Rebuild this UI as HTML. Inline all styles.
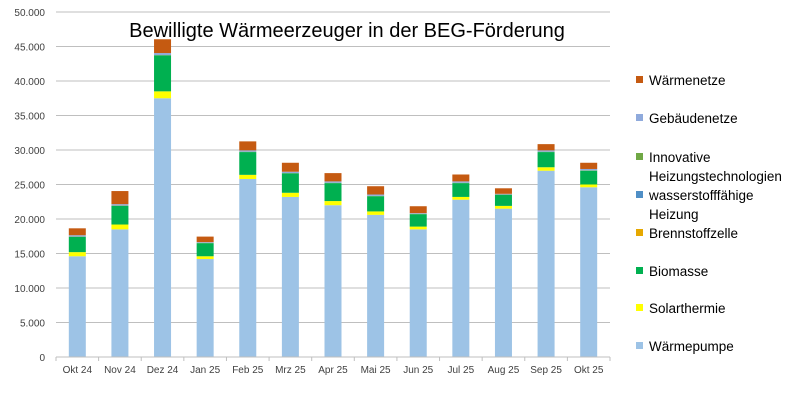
<!DOCTYPE html>
<html><head><meta charset="utf-8"><style>
body{margin:0;background:#fff;}
svg{display:block;font-family:"Liberation Sans",sans-serif;}
</style></head><body>
<svg id="chart" width="800" height="415" viewBox="0 0 800 415">
<text x="347" y="37" text-anchor="middle" font-size="20" fill="#000">Bewilligte Wärmeerzeuger in der BEG-Förderung</text>
<g id="grid"></g><g id="bars"></g><g id="axes"></g><g id="legend"></g>
</svg>
<script>
const categories=["Okt 24","Nov 24","Dez 24","Jan 25","Feb 25","Mrz 25","Apr 25","Mai 25","Jun 25","Jul 25","Aug 25","Sep 25","Okt 25"];
const waermepumpe=[14600,18500,37500,14200,25800,23200,22000,20600,18500,22800,21500,27000,24600];
const solarthermie=[600,700,1000,400,600,600,600,500,400,400,400,500,400];
const biomasse=[2200,2700,5200,1900,3300,2800,2600,2200,1800,2000,1600,2200,2000];
const brennstoffzelle=[0,0,0,0,0,0,0,0,0,0,0,0,0];
const wasserstoff=[0,0,0,0,0,0,0,0,0,0,0,0,0];
const innovative=[50,50,50,50,50,50,50,50,50,50,50,50,50];
const gebaeudenetze=[200,200,300,100,200,200,200,200,100,200,100,200,200];
const waermenetze=[1000,1900,2000,800,1300,1300,1200,1200,1000,1000,800,900,900];
const yTicks=[0,5000,10000,15000,20000,25000,30000,35000,40000,45000,50000];
const yTickLabels=["0","5.000","10.000","15.000","20.000","25.000","30.000","35.000","40.000","45.000","50.000"];
const series=[
 {name:"Wärmepumpe",v:waermepumpe,c:"#9dc3e6",k:"waermepumpe"},
 {name:"Solarthermie",v:solarthermie,c:"#ffff00",k:"solarthermie"},
 {name:"Biomasse",v:biomasse,c:"#00b050",k:"biomasse"},
 {name:"Brennstoffzelle",v:brennstoffzelle,c:"#e6a800",k:"brennstoffzelle"},
 {name:"wasserstofffähige Heizung",v:wasserstoff,c:"#4f8fc6",k:"wasserstoff"},
 {name:"Innovative Heizungstechnologien",v:innovative,c:"#70a845",k:"innovative"},
 {name:"Gebäudenetze",v:gebaeudenetze,c:"#8faadc",k:"gebaeudenetze"},
 {name:"Wärmenetze",v:waermenetze,c:"#c55a11",k:"waermenetze"}];
const NS="http://www.w3.org/2000/svg";
const L=56,R=610,T=12,B=357,yMax=50000;
const y=v=>B-(v/yMax)*(B-T);
const band=(R-L)/categories.length;
const x=i=>L+band*i+band/2;
function mk(t,a,p){const e=document.createElementNS(NS,t);for(const k in a)e.setAttribute(k,a[k]);p.appendChild(e);return e;}
const grid=document.getElementById('grid'),axes=document.getElementById('axes'),bars=document.getElementById('bars'),leg=document.getElementById('legend');
yTicks.forEach((t,i)=>{
 if(t>0){const g=mk('line',{x1:L,x2:R,y1:y(t),y2:y(t),stroke:'#bfbfbf','stroke-width':1},grid);
 
 }
 const tx=mk('text',{x:L-11,y:y(t)+4,'text-anchor':'end','font-size':10,fill:'#404040'},axes);
 tx.textContent=yTickLabels[i];
 
 
});
const ax=mk('line',{x1:L,x2:R,y1:B,y2:B,stroke:'#bfbfbf'},axes);


for(let i=0;i<=categories.length;i++){const tk=mk('line',{x1:L+band*i,x2:L+band*i,y1:B,y2:B+4,stroke:'#bfbfbf'},axes);
 
 }
const bw=17;
categories.forEach((c,i)=>{
 let acc=0;
 series.forEach(s=>{const v=s.v[i];if(v<=0)return;
  const r=mk('rect',{x:x(i)-bw/2,y:y(acc+v),width:bw,height:y(acc)-y(acc+v),fill:s.c},bars);
  
  
  acc+=v;});
 const t=mk('text',{x:x(i),y:B+16,'text-anchor':'middle','font-size':10,fill:'#404040'},axes);
 t.textContent=c;
 
 
});
const legRows=[
 {s:7,y:80,lines:["Wärmenetze"]},{s:6,y:118,lines:["Gebäudenetze"]},
 {s:5,y:157,lines:["Innovative","Heizungstechnologien"]},{s:4,y:195,lines:["wasserstofffähige","Heizung"]},
 {s:3,y:233,lines:["Brennstoffzelle"]},{s:2,y:271,lines:["Biomasse"]},
 {s:1,y:308,lines:["Solarthermie"]},{s:0,y:346,lines:["Wärmepumpe"]}];
legRows.forEach(r=>{
 const sq=mk('rect',{x:636,y:r.y-4,width:7,height:7,fill:series[r.s].c},leg);
 
 
 r.lines.forEach((ln,j)=>{const t=mk('text',{x:649,y:r.y+5+j*19,'font-size':13.5,fill:'#000'},leg);
  t.textContent=ln;
  
  });
});
</script>
</body></html>
